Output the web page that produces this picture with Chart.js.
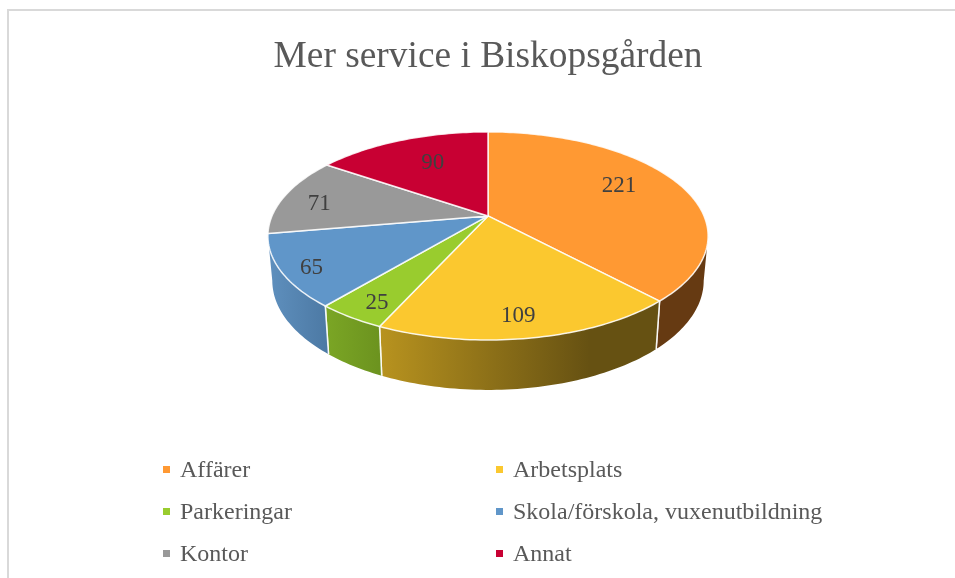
<!DOCTYPE html>
<html>
<head>
<meta charset="utf-8">
<title>Mer service i Biskopsgården</title>
<script src="https://cdn.jsdelivr.net/npm/chart.js@4/dist/chart.umd.min.js"></script>
<style>
    html, body { margin: 0; padding: 0; background: #fff; overflow: hidden; width: 955px; height: 578px; }
    #frame { position: absolute; left: 7px; top: 9px; width: 960px; height: 600px; border: 2px solid #d9d9d9; box-sizing: border-box; }
    #chart { position: absolute; left: 0; top: 0; }
    #legend { position: absolute; left: 0; top: 0; font: 24px "Liberation Serif", serif; color: #595959; }
    .item { position: absolute; white-space: nowrap; line-height: 26px; }
    .item i { position: absolute; left: -17px; top: 10px; width: 7px; height: 7px; }
</style>
</head>
<body>
<div id="frame"></div>
<canvas id="chart" width="976" height="578"></canvas>
<div id="legend"></div>
<script>
const categories = ['Affärer', 'Arbetsplats', 'Parkeringar', 'Skola/förskola, vuxenutbildning', 'Kontor', 'Annat'];
const values = [221, 109, 25, 65, 71, 90];
const sliceColors = ['#ff9933', '#fbc82f', '#99cc2e', '#6096c9', '#999999', '#c80033'];

// Side wall shades, left to right. Gray and red never show a wall
const wallShades = [
    ['#663a12', '#663a12', 1],
    ['#b8931f', '#665112', 0.75],
    ['#7ba625', '#6c931f', 1],
    ['#5f90be', '#4d7aa5', 1],
    ['#666666', '#666666', 1],
    ['#800020', '#800020', 1]
];

// Pixel nudges of the value labels from their default spot in the slice
const labelNudge = [[-3, -5], [2, 20], [-20, 20], [-36, 15], [-25, 2], [8, 2]];

// Perspective of the disc
const TILT = 0.4639;
const PERSPECTIVE = 0.1923;
const WALL_DROP = 43.7;
const WALL_SHRINK = 0.98;
const WALL_STRETCH = 1.05;

// Disc point (radial fraction f, chart angle a) to screen
function project(el, a, f = 1) {
    const x = f * Math.cos(a);
    const y = f * Math.sin(a);
    const w = 1 - PERSPECTIVE * y;
    return {
        x: el.x + el.outerRadius * x / w,
        y: el.y + el.outerRadius * TILT * y / w
    };
}

// Same point on the lower rim of the disc
function projectBottom(el, a) {
    const p = project(el, a);
    return {
        x: el.x + (p.x - el.x) * WALL_SHRINK,
        y: el.y + (p.y - el.y) * WALL_STRETCH + WALL_DROP
    };
}

function traceRim(ctx, el, from, to, pointAt, first) {
    const steps = Math.max(2, Math.ceil(Math.abs(to - from) / 0.02));
    for (let i = 0; i <= steps; i++) {
        const p = pointAt(el, from + (to - from) * i / steps);
        if (i === 0 && first) ctx.moveTo(p.x, p.y);
        else ctx.lineTo(p.x, p.y);
    }
}

function drawWall(ctx, el, i) {
    // Only the part of the rim that faces the viewer
    const edge = Math.asin(PERSPECTIVE);
    const from = Math.max(el.startAngle, edge);
    const to = Math.min(el.endAngle, Math.PI - edge);
    if (from >= to) return;

    const a = project(el, to);
    const b = project(el, from);
    const [left, right, stop] = wallShades[i];
    const gradient = ctx.createLinearGradient(a.x, 0, b.x, 0);
    gradient.addColorStop(0, left);
    gradient.addColorStop(stop, right);
    gradient.addColorStop(1, right);

    ctx.beginPath();
    traceRim(ctx, el, from, to, project, true);
    traceRim(ctx, el, to, from, projectBottom, false);
    ctx.closePath();
    ctx.fillStyle = gradient;
    ctx.fill();

    // Seam at the ends that are real slice boundaries
    ctx.strokeStyle = 'rgba(255,255,255,0.9)';
    ctx.lineWidth = 1.5;
    [from, to].forEach(angle => {
        if (angle !== el.startAngle && angle !== el.endAngle) return;
        const top = project(el, angle);
        const bottom = projectBottom(el, angle);
        ctx.beginPath();
        ctx.moveTo(top.x, top.y);
        ctx.lineTo(bottom.x, bottom.y);
        ctx.stroke();
    });
}

function drawFace(ctx, el, i) {
    ctx.beginPath();
    ctx.moveTo(el.x, el.y);
    traceRim(ctx, el, el.startAngle, el.endAngle, project, false);
    ctx.closePath();
    ctx.fillStyle = sliceColors[i];
    ctx.fill();
    ctx.strokeStyle = 'rgba(255,255,255,0.85)';
    ctx.lineWidth = 1.5;
    ctx.lineJoin = 'round';
    ctx.stroke();
}

// Replaces the flat arcs with a tilted disc, angles still come from the library
const tiltedPie = {
    id: 'tiltedPie',
    beforeDatasetDraw(chart, args) {
        const ctx = chart.ctx;
        const arcs = args.meta.data;
        ctx.save();
        arcs.forEach((el, i) => drawWall(ctx, el, i));
        arcs.forEach((el, i) => drawFace(ctx, el, i));

        ctx.font = '23px "Liberation Serif", serif';
        ctx.fillStyle = '#404040';
        ctx.textAlign = 'center';
        ctx.textBaseline = 'middle';
        arcs.forEach((el, i) => {
            const p = project(el, (el.startAngle + el.endAngle) / 2, 0.7);
            ctx.fillText(values[i], p.x + labelNudge[i][0], p.y + labelNudge[i][1]);
        });
        ctx.restore();
        return false;
    }
};

new Chart(document.getElementById('chart'), {
    type: 'pie',
    data: {
        labels: categories,
        datasets: [{
            data: values,
            backgroundColor: sliceColors,
            borderWidth: 0,
            radius: 216
        }]
    },
    options: {
        responsive: false,
        animation: false,
        layout: { padding: { bottom: 229 } },
        plugins: {
            legend: { display: false },
            tooltip: { enabled: false },
            title: {
                display: true,
                text: 'Mer service i Biskopsgården',
                color: '#595959',
                font: { family: '"Liberation Serif", serif', size: 37.4, weight: 'normal', lineHeight: 1.2 },
                padding: { top: 35, bottom: 3 }
            }
        }
    },
    plugins: [tiltedPie]
});

// Two column legend
const legendEl = document.getElementById('legend');
categories.forEach((name, i) => {
    const item = document.createElement('div');
    item.className = 'item';
    item.style.left = (i % 2 === 0 ? 180 : 513) + 'px';
    item.style.top = (456 + 42 * Math.floor(i / 2)) + 'px';
    item.innerHTML = `<i style="background:${sliceColors[i]}"></i>${name}`;
    legendEl.appendChild(item);
});
</script>
</body>
</html>
